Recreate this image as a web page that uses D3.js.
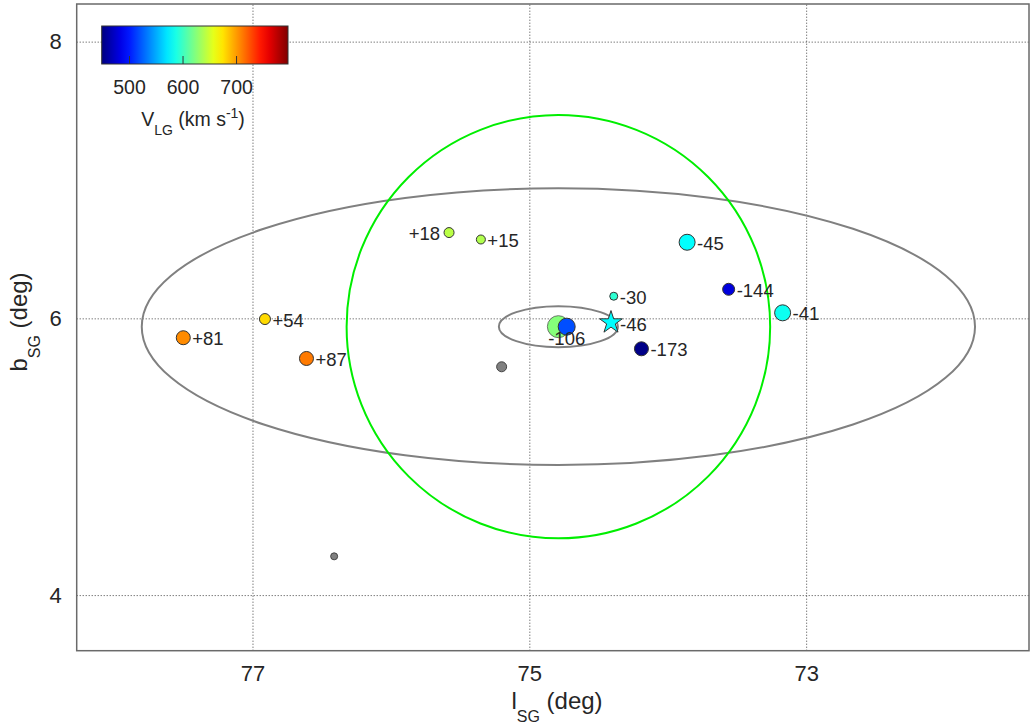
<!DOCTYPE html>
<html>
<head>
<meta charset="utf-8">
<script src="https://cdn.jsdelivr.net/npm/d3@7"></script>
<style>
  body { margin: 0; background: #fff; }
  text { font-family: "Liberation Sans", Arial, Helvetica, sans-serif; fill: #262626; }
</style>
</head>
<body>
<div id="chart"></div>
<script>
// Galaxies with measured velocity
const labels = ["+81", "+54", "+87", "+18", "+15", "-30", "-45", "-144", "-41", "-173", "-106"];
const lSG = [77.50, 76.91, 76.61, 75.58, 75.35, 74.39, 73.86, 73.56, 73.17, 74.19, 74.73];
const bSG = [5.86, 5.995, 5.71, 6.62, 6.57, 6.16, 6.55, 6.21, 6.04, 5.78, 5.94];
const vLG = [706, 679, 712, 643, 640, 595, 580, 481, 584, 452, 519];
const sizes = [7, 5.5, 7, 5, 4.5, 4, 8, 6, 8, 7, 8.5];
const labelPos = ["right", "right", "right", "left", "right", "right", "right", "right", "right", "right", "below"];

// Group centre (big circle), star, galaxies without velocity
const centre = { l: 74.79, b: 5.94, v: 625, r: 11 };
const star = { label: "-46", l: 74.41, b: 5.97, v: 579 };
const grayL = [75.20, 76.41];
const grayB = [5.65, 4.28];
const grayR = [5, 3.5];

// Ellipses around centre (semi-axes in deg)
const ellipseA = [3.01, 0.43];
const ellipseB = [1.0, 0.148];
const circleR = 1.53;

const xTicks = [77, 75, 73];
const yTicks = [4, 6, 8];
const cbTicks = [500, 600, 700];
const cbDomain = [449, 797];

const width = 1030, height = 728;
const pLeft = 76.7, pRight = 1029, pTop = 4, pBottom = 650.7;

const svg = d3.select("#chart").append("svg")
  .attr("width", width)
  .attr("height", height);

const x = d3.scaleLinear().domain([78.27, 71.39]).range([pLeft, pRight]);
const y = d3.scaleLinear().domain([8.272, 3.598]).range([pTop, pBottom]);

// jet colormap
const jet = (t) => {
  const c = (v) => Math.max(0, Math.min(1, v));
  const r = c(1.5 - Math.abs(4 * t - 3));
  const g = c(1.5 - Math.abs(4 * t - 2));
  const b = c(1.5 - Math.abs(4 * t - 1));
  return d3.rgb(r * 255, g * 255, b * 255).formatHex();
};
const vNorm = d3.scaleLinear().domain(cbDomain).range([0, 1]).clamp(true);
const color = (v) => jet(vNorm(v));

// Gridlines
const grid = svg.append("g");
grid.append("g")
  .attr("transform", `translate(0, ${pBottom})`)
  .call(d3.axisBottom(x).tickValues(xTicks).tickSize(-(pBottom - pTop)).tickFormat(""))
  .call(g => g.select(".domain").remove())
  .call(g => g.selectAll("line").attr("stroke", "#444").attr("stroke-dasharray", "1,2"));
grid.append("g")
  .attr("transform", `translate(${pLeft}, 0)`)
  .call(d3.axisLeft(y).tickValues(yTicks).tickSize(-(pRight - pLeft)).tickFormat(""))
  .call(g => g.select(".domain").remove())
  .call(g => g.selectAll("line").attr("stroke", "#444").attr("stroke-dasharray", "1,2"));

// Frame
svg.append("rect")
  .attr("x", pLeft).attr("y", pTop)
  .attr("width", pRight - pLeft).attr("height", pBottom - pTop)
  .attr("fill", "none").attr("stroke", "#6a6a6a").attr("stroke-width", 1.5);

// Tick labels
svg.append("g")
  .attr("transform", `translate(0, ${pBottom})`)
  .call(d3.axisBottom(x).tickValues(xTicks).tickSize(0).tickPadding(15).tickFormat(d3.format("d")))
  .call(g => g.select(".domain").remove())
  .call(g => g.selectAll("text").style("font-size", "22px").attr("font-family", null));
svg.append("g")
  .attr("transform", `translate(${pLeft}, 0)`)
  .call(d3.axisLeft(y).tickValues(yTicks).tickSize(0).tickPadding(15).tickFormat(d3.format("d")))
  .call(g => g.select(".domain").remove())
  .call(g => g.selectAll("text").style("font-size", "22px").attr("font-family", null));

// Axis titles
const xt = svg.append("text")
  .attr("x", 557).attr("y", 709)
  .attr("text-anchor", "middle").style("font-size", "24px");
xt.append("tspan").text("l");
xt.append("tspan").attr("dy", 13).style("font-size", "16px").text("SG");
xt.append("tspan").attr("dy", -13).text(" (deg)");

const yt = svg.append("text")
  .attr("transform", `translate(27, 322) rotate(-90)`)
  .attr("text-anchor", "middle").style("font-size", "24px");
yt.append("tspan").text("b");
yt.append("tspan").attr("dy", 13).style("font-size", "16px").text("SG");
yt.append("tspan").attr("dy", -13).text(" (deg)");

// Ellipses and circle
const cx = x(centre.l), cy = y(centre.b);
svg.append("g").selectAll("ellipse")
  .data(ellipseA)
  .enter().append("ellipse")
    .attr("cx", cx).attr("cy", cy)
    .attr("rx", (d) => x(centre.l - d) - cx)
    .attr("ry", (d, i) => y(centre.b - ellipseB[i]) - cy)
    .attr("fill", "none").attr("stroke", "#808080").attr("stroke-width", 2);

svg.append("ellipse")
  .attr("cx", cx).attr("cy", cy)
  .attr("rx", x(centre.l - circleR) - cx)
  .attr("ry", y(centre.b - circleR) - cy)
  .attr("fill", "none").attr("stroke", "#00ee00").attr("stroke-width", 2);

// Gray points
svg.append("g").selectAll("circle")
  .data(grayL)
  .enter().append("circle")
    .attr("cx", (d) => x(d))
    .attr("cy", (d, i) => y(grayB[i]))
    .attr("r", (d, i) => grayR[i])
    .attr("fill", "#808080").attr("stroke", "#444").attr("stroke-width", 1);

// Centre circle
svg.append("circle")
  .attr("cx", cx).attr("cy", cy).attr("r", centre.r)
  .attr("fill", color(centre.v)).attr("stroke", "#555").attr("stroke-width", 0.8);

// Galaxies
const pts = svg.append("g").selectAll("g")
  .data(labels)
  .enter().append("g")
    .attr("transform", (d, i) => `translate(${x(lSG[i])}, ${y(bSG[i])})`);

pts.append("circle")
  .attr("r", (d, i) => sizes[i])
  .attr("fill", (d, i) => color(vLG[i]))
  .attr("stroke", "#333").attr("stroke-width", 1);

pts.append("text")
  .attr("x", (d, i) => labelPos[i] === "left" ? -sizes[i] - 4 : labelPos[i] === "below" ? 0 : sizes[i] + 2)
  .attr("y", (d, i) => labelPos[i] === "below" ? 12 : 1)
  .attr("dy", "0.35em")
  .attr("text-anchor", (d, i) => labelPos[i] === "left" ? "end" : labelPos[i] === "below" ? "middle" : "start")
  .style("font-size", "18.5px")
  .text((d) => d);

// Star
const starPath = d3.symbol().type(d3.symbolStar).size(160);
const sg = svg.append("g").attr("transform", `translate(${x(star.l)}, ${y(star.b)})`);
sg.append("path")
  .attr("d", starPath())
  .attr("fill", color(star.v)).attr("stroke", "#333").attr("stroke-width", 1);
sg.append("text")
  .attr("x", 9).attr("y", 2).attr("dy", "0.35em")
  .style("font-size", "18.5px")
  .text(star.label);

// Colorbar
const cb = { x0: 101.7, x1: 288, y0: 26, y1: 64 };
const cbScale = d3.scaleLinear().domain(cbDomain).range([cb.x0, cb.x1]);
const grad = svg.append("defs").append("linearGradient").attr("id", "jet");
grad.selectAll("stop")
  .data(d3.range(0, 1.0001, 0.05))
  .enter().append("stop")
    .attr("offset", (d) => d)
    .attr("stop-color", (d) => jet(d));

svg.append("rect")
  .attr("x", cb.x0).attr("y", cb.y0)
  .attr("width", cb.x1 - cb.x0).attr("height", cb.y1 - cb.y0)
  .attr("fill", "url(#jet)").attr("stroke", "#333").attr("stroke-width", 1);

svg.append("g")
  .attr("transform", `translate(0, ${cb.y1})`)
  .call(d3.axisBottom(cbScale).tickValues(cbTicks).tickSize(-8).tickPadding(16))
  .call(g => g.select(".domain").remove())
  .call(g => g.selectAll("line").attr("stroke", "#333"))
  .call(g => g.selectAll("text").style("font-size", "19.5px").attr("font-family", null));

const ct = svg.append("text")
  .attr("x", 193).attr("y", 126)
  .attr("text-anchor", "middle").style("font-size", "19.5px");
ct.append("tspan").text("V");
ct.append("tspan").attr("dy", 9).style("font-size", "14px").text("LG");
ct.append("tspan").attr("dy", -9).text(" (km s");
ct.append("tspan").attr("dy", -8).style("font-size", "14px").text("-1");
ct.append("tspan").attr("dy", 8).text(")");
</script>
</body>
</html>
